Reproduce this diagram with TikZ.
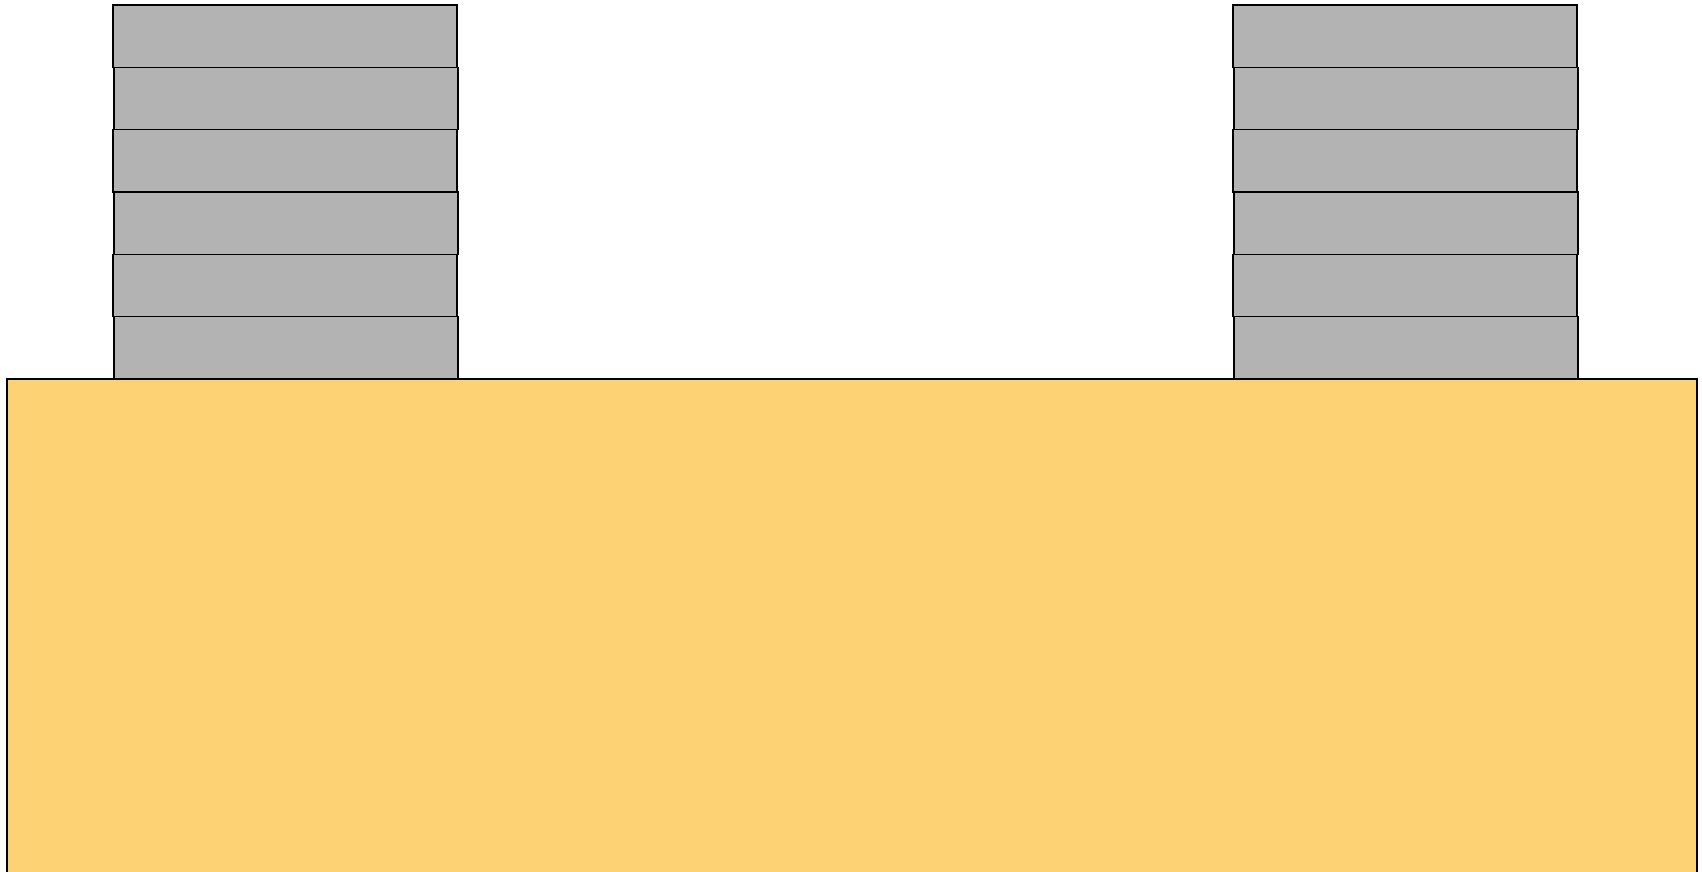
\documentclass[tikz,border=0pt]{standalone}
\definecolor{brickgray}{HTML}{B3B3B3}
\definecolor{baseorange}{HTML}{FDD275}
\tikzset{
  brick/.style={fill=brickgray, draw=black, line width=1.1pt},
  base/.style={fill=baseorange, draw=black, line width=1.6pt}
}
\begin{document}
\begin{tikzpicture}[x=1pt,y=-1pt]
\useasboundingbox (0,0) rectangle (1702,872);
\clip (0,0) rectangle (1702,872);
% base
\draw[base] (7,379) rectangle (1697,900);
% stacks
\foreach \i in {0,...,5}{
  \pgfmathsetmacro{\yt}{5+62.33*\i}
  \pgfmathsetmacro{\yb}{5+62.33*(\i+1)}
  \pgfmathsetmacro{\dx}{mod(\i,2)}
  \draw[brick] (113+\dx,\yt) rectangle (457+\dx,\yb);
  \draw[brick] (1233+\dx,\yt) rectangle (1577+\dx,\yb);
}
\draw[base, fill=none] (7,379) -- (1697,379);
\end{tikzpicture}
\end{document}
